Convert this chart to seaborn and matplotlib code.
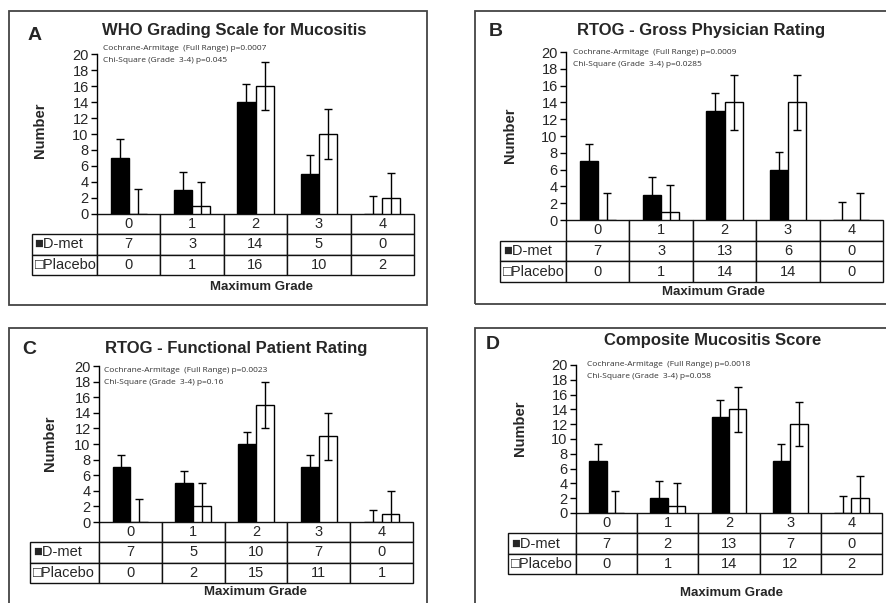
import numpy as np
import pandas as pd
import matplotlib
matplotlib.use("Agg")
import matplotlib.pyplot as plt
from matplotlib.patches import Rectangle
import seaborn as sns

# === data ===
grades = ['0', '1', '2', '3', '4']
groups = ['D-met', 'Placebo']
letters = ['A', 'B', 'C', 'D']
titles = ['WHO Grading Scale for Mucositis', 'RTOG - Gross Physician Rating',
          'RTOG - Functional Patient Rating', 'Composite Mucositis Score']
p_trend = ['0.0007', '0.0009', '0.0023', '0.0018']
p_chi = ['0.045', '0.0285', '0.16', '0.058']

dmet_a = [7, 3, 14, 5, 0]
placebo_a = [0, 1, 16, 10, 2]
dmet_err_a = [2.4, 2.3, 2.3, 2.4, 2.2]
placebo_err_a = [3.1, 3.0, 3.0, 3.1, 3.1]

dmet_b = [7, 3, 13, 6, 0]
placebo_b = [0, 1, 14, 14, 0]
dmet_err_b = [2.1, 2.1, 2.1, 2.1, 2.2]
placebo_err_b = [3.2, 3.2, 3.3, 3.3, 3.2]

dmet_c = [7, 5, 10, 7, 0]
placebo_c = [0, 2, 15, 11, 1]
dmet_err_c = [1.6, 1.6, 1.6, 1.6, 1.6]
placebo_err_c = [3.0, 3.0, 3.0, 3.0, 3.0]

dmet_d = [7, 2, 13, 7, 0]
placebo_d = [0, 1, 14, 12, 2]
dmet_err_d = [2.3, 2.3, 2.3, 2.3, 2.3]
placebo_err_d = [3.0, 3.0, 3.0, 3.0, 3.0]

dmet_all = [dmet_a, dmet_b, dmet_c, dmet_d]
placebo_all = [placebo_a, placebo_b, placebo_c, placebo_d]
dmet_err_all = [dmet_err_a, dmet_err_b, dmet_err_c, dmet_err_d]
placebo_err_all = [placebo_err_a, placebo_err_b, placebo_err_c, placebo_err_d]

# === layout (pixels, origin top-left) ===
W, H = 886, 603
# axes left, right, top(y=20), bottom(y=0), table label left, table bottom
axes_px = [(97, 414, 54, 214, 32, 275),
           (566, 883, 52, 220, 500, 282),
           (99, 413, 366, 522, 30, 583),
           (576, 882, 365, 513, 508, 574)]
frames_px = [(9, 11, 427, 305), (475, 11, 900, 304),
             (9, 328, 427, 620), (475, 328, 900, 620)]
title_px = [(234, 30), (701, 30), (236, 348), (713, 340)]
letter_px = [(28, 35), (489, 32), (22, 349), (486, 345)]
stats_px = [(103, 48), (573, 52), (104, 371), (587, 365)]
ylab_px = [(40, 130), (510, 135), (50, 443), (520, 428)]
xlab_px = [(261, 287), (713, 292), (255, 592), (732, 593)]


def fx(x):
    return x / W


def fy(y):
    return 1 - y / H


sns.set_style('ticks')
plt.rcParams['font.family'] = ['Liberation Sans', 'DejaVu Sans']

fig = plt.figure(figsize=(W / 100, H / 100), dpi=100)

for k in range(4):
    xl, xr, yt, yb, lab_l, tb = axes_px[k]
    ax = fig.add_axes([fx(xl), fy(yb), (xr - xl) / W, (yb - yt) / H])

    df = pd.DataFrame({
        'grade': grades * 2,
        'group': [groups[0]] * 5 + [groups[1]] * 5,
        'n': dmet_all[k] + placebo_all[k],
    })
    sns.barplot(data=df, x='grade', y='n', hue='group', order=grades,
                hue_order=groups, palette={'D-met': 'black', 'Placebo': 'white'},
                edgecolor='black', linewidth=1, width=0.57, gap=0,
                errorbar=None, legend=False, ax=ax)

    errs = {'D-met': dmet_err_all[k], 'Placebo': placebo_err_all[k]}
    for p in ax.patches:
        cx = p.get_x() + p.get_width() / 2
        cat = int(round(cx))
        grp = 'D-met' if p.get_facecolor()[0] < 0.5 else 'Placebo'
        ax.errorbar(cx, p.get_height(), yerr=errs[grp][cat], fmt='none',
                    ecolor='black', elinewidth=1, capsize=3, capthick=1, zorder=4)

    ax.set_ylim(0, 20)
    ax.set_yticks(range(0, 21, 2))
    ax.set_xlim(-0.5, 4.5)
    ax.set_xticks([])
    ax.set_xlabel('')
    ax.set_ylabel('')
    ax.tick_params(axis='y', length=4, width=1, direction='out', pad=2,
                   labelsize=10.5, color='black')
    for s in ['top', 'right', 'bottom']:
        ax.spines[s].set_visible(False)
    ax.spines['left'].set_color('black')
    ax.spines['left'].set_linewidth(1)

    # data table under the bars
    axw = xr - xl
    axh = yb - yt
    col_w = axw / 5
    cells = [[''] + grades,
             ['\u25a0D-met'] + [str(v) for v in dmet_all[k]],
             ['\u25a1Placebo'] + [str(v) for v in placebo_all[k]]]
    tbl = ax.table(cellText=cells, cellLoc='center',
                   colWidths=[xl - lab_l] + [col_w] * 5,
                   bbox=[(lab_l - xl) / axw, -(tb - yb) / axh,
                         (xr - lab_l) / axw, (tb - yb) / axh])
    tbl.auto_set_font_size(False)
    tbl.set_fontsize(10.5)
    for (r, c), cell in tbl.get_celld().items():
        cell.set_linewidth(1)
        cell.set_edgecolor('#111111')
        cell.get_text().set_fontfamily(['Liberation Sans', 'DejaVu Sans'])
        if c == 0:
            cell.PAD = 0.04
            cell.get_text().set_horizontalalignment('left')
        if r == 0 and c == 0:
            cell.visible_edges = 'open'

    # texts
    fig.text(fx(title_px[k][0]), fy(title_px[k][1]), titles[k], ha='center',
             va='center', fontsize=12, fontweight='bold')
    fig.text(fx(letter_px[k][0]), fy(letter_px[k][1]), letters[k], ha='left',
             va='center', fontsize=14, fontweight='bold')
    fig.text(fx(stats_px[k][0]), fy(stats_px[k][1]),
             'Cochrane-Armitage  (Full Range) p=' + p_trend[k],
             ha='left', va='center', fontsize=6, color='#333333',
             family=['Open Sans', 'DejaVu Sans'])
    fig.text(fx(stats_px[k][0]), fy(stats_px[k][1] + 12),
             'Chi-Square (Grade  3-4) p=' + p_chi[k],
             ha='left', va='center', fontsize=6, color='#333333',
             family=['Open Sans', 'DejaVu Sans'])
    fig.text(fx(ylab_px[k][0]), fy(ylab_px[k][1]), 'Number', rotation=90,
             ha='center', va='center', fontsize=10.5, fontweight='bold')
    fig.text(fx(xlab_px[k][0]), fy(xlab_px[k][1]), 'Maximum Grade',
             ha='center', va='center', fontsize=9.5, fontweight='bold')

    x0, y0, x1, y1 = frames_px[k]
    fig.add_artist(Rectangle((fx(x0), fy(y1)), (x1 - x0) / W, (y1 - y0) / H,
                             transform=fig.transFigure, fill=False,
                             edgecolor='#444444', linewidth=1.3))

fig.savefig('out.png', dpi=100, facecolor='white')
